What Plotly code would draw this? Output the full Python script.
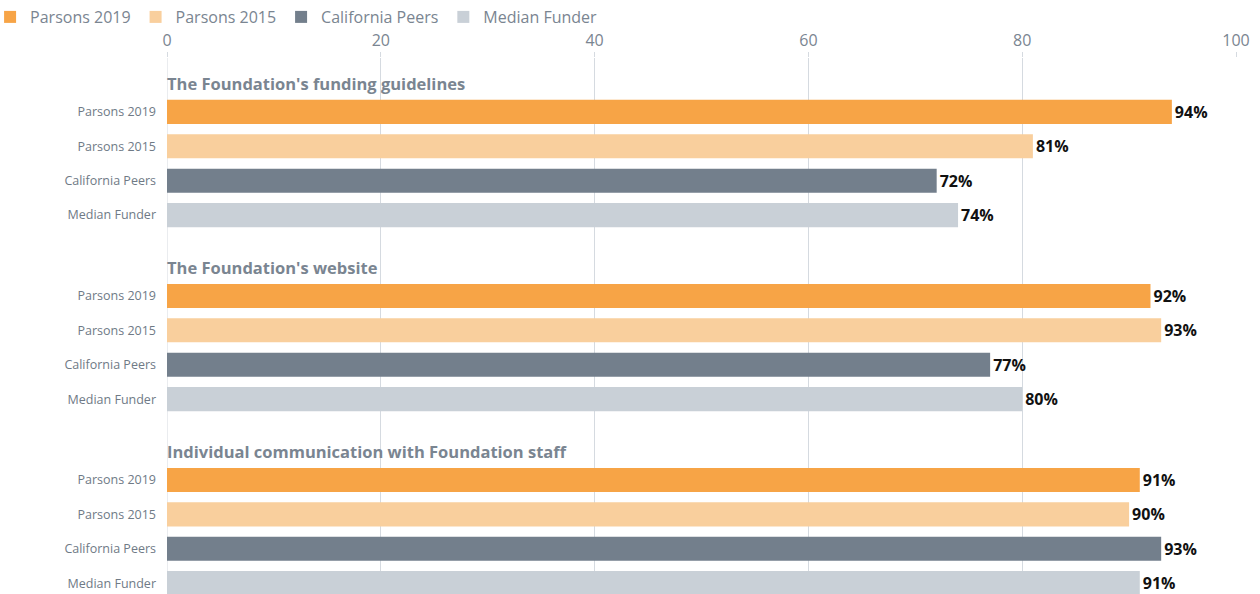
import plotly.graph_objects as go

groups = ["The Foundation's funding guidelines", "The Foundation's website",
          "Individual communication with Foundation staff"]
series = ["Parsons 2019", "Parsons 2015", "California Peers", "Median Funder"]
values = {
    "Parsons 2019": [94, 92, 91],
    "Parsons 2015": [81, 93, 90],
    "California Peers": [72, 77, 93],
    "Median Funder": [74, 80, 91],
}
colors = {
    "Parsons 2019": "#F7A446",
    "Parsons 2015": "#F9CF9D",
    "California Peers": "#737F8C",
    "Median Funder": "#C9D0D7",
}
x_ticks = [0, 20, 40, 60, 80, 100]

GROUP_STEP = 5.35
TITLE_GAP = 0.84
FONT = "Open Sans"

fig = go.Figure()
tickvals, ticktext = [], []
for r, s in enumerate(series):
    ys = [g * GROUP_STEP + TITLE_GAP + r for g in range(len(groups))]
    tickvals += ys
    ticktext += [s] * len(groups)
    fig.add_trace(go.Bar(
        name=s, orientation="h", x=values[s], y=ys, width=0.7,
        marker=dict(color=colors[s], line=dict(width=0)),
        texttemplate="%{x}%", textposition="outside",
        textfont=dict(family=FONT, size=16, color="#111111", weight="bold"),
        cliponaxis=False, hoverinfo="x+name",
    ))

for g, title in enumerate(groups):
    fig.add_annotation(
        x=0, y=g * GROUP_STEP, xref="x", yref="y", text=title, showarrow=False,
        xanchor="left", yanchor="middle", xshift=-2,
        font=dict(family=FONT, size=16.5, color="#7A8591", weight="bold"),
    )

fig.update_layout(
    width=1260, height=594,
    margin=dict(l=167, r=24, t=58, b=0, autoexpand=False),
    paper_bgcolor="white", plot_bgcolor="white",
    font=dict(family=FONT, color="#7A8591"),
    barmode="overlay",
    showlegend=True,
    legend=dict(orientation="h", x=-0.1655, xref="paper", xanchor="left",
                y=1, yref="container", yanchor="top",
                font=dict(size=16, color="#7A8591"),
                traceorder="normal", itemwidth=30, tracegroupgap=0),
    xaxis=dict(side="top", range=[0, 100], tickvals=x_ticks, showgrid=True,
               gridcolor="#D5DAE0", gridwidth=1, zeroline=False,
               ticks="outside", ticklen=5, tickcolor="#D5DAE0",
               tickfont=dict(size=16, color="#7A8591"), showline=False,
               automargin=False),
    yaxis=dict(range=[14.855, -0.727], tickvals=tickvals, ticktext=ticktext,
               showgrid=False, zeroline=False, showline=False, ticks="",
               ticklabelstandoff=10, tickfont=dict(size=12.5, color="#6F7A86"),
               automargin=False),
)
fig.add_shape(type="line", xref="x", yref="paper", x0=0, x1=0, y0=0, y1=1,
              line=dict(color="#D5DAE0", width=1), layer="below")

fig.write_html(
    "out.html",
    config={"displayModeBar": False},
    post_script="document.body.style.margin='0';document.body.style.overflow='hidden';",
)
